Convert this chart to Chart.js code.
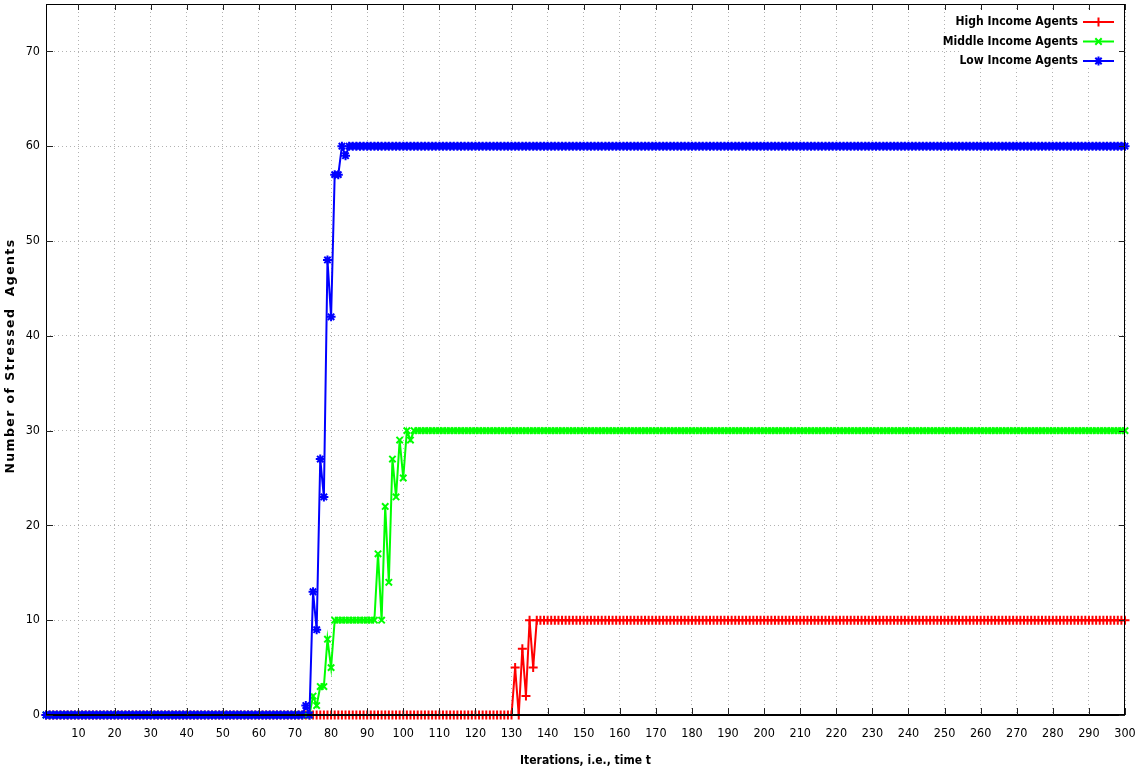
<!DOCTYPE html>
<html><head><meta charset="utf-8">
<script src="https://cdn.jsdelivr.net/npm/chart.js@4/dist/chart.umd.min.js"></script>
<style>html,body{margin:0;padding:0;background:#fff;}#wrap{width:1136px;height:772px;}</style>
</head><body><div id="wrap"><canvas id="c" width="1136" height="772"></canvas></div>
<script>
// x index of each iteration (1..300)
const iterations = Array.from({length: 300}, (_, i) => i + 1);

const highIncome = [
0,0,0,0,0,0,0,0,0,0,0,0,0,0,0,0,0,0,0,0,
0,0,0,0,0,0,0,0,0,0,0,0,0,0,0,0,0,0,0,0,
0,0,0,0,0,0,0,0,0,0,0,0,0,0,0,0,0,0,0,0,
0,0,0,0,0,0,0,0,0,0,0,0,0,0,0,0,0,0,0,0,
0,0,0,0,0,0,0,0,0,0,0,0,0,0,0,0,0,0,0,0,
0,0,0,0,0,0,0,0,0,0,0,0,0,0,0,0,0,0,0,0,
0,0,0,0,0,0,0,0,0,0,5,0,7,2,10,5,10,10,10,10,
10,10,10,10,10,10,10,10,10,10,10,10,10,10,10,10,10,10,10,10,
10,10,10,10,10,10,10,10,10,10,10,10,10,10,10,10,10,10,10,10,
10,10,10,10,10,10,10,10,10,10,10,10,10,10,10,10,10,10,10,10,
10,10,10,10,10,10,10,10,10,10,10,10,10,10,10,10,10,10,10,10,
10,10,10,10,10,10,10,10,10,10,10,10,10,10,10,10,10,10,10,10,
10,10,10,10,10,10,10,10,10,10,10,10,10,10,10,10,10,10,10,10,
10,10,10,10,10,10,10,10,10,10,10,10,10,10,10,10,10,10,10,10,
10,10,10,10,10,10,10,10,10,10,10,10,10,10,10,10,10,10,10,10
];
const middleIncome = [
0,0,0,0,0,0,0,0,0,0,0,0,0,0,0,0,0,0,0,0,
0,0,0,0,0,0,0,0,0,0,0,0,0,0,0,0,0,0,0,0,
0,0,0,0,0,0,0,0,0,0,0,0,0,0,0,0,0,0,0,0,
0,0,0,0,0,0,0,0,0,0,0,0,0,0,2,1,3,3,8,5,
10,10,10,10,10,10,10,10,10,10,10,10,17,10,22,14,27,23,29,25,
30,29,30,30,30,30,30,30,30,30,30,30,30,30,30,30,30,30,30,30,
30,30,30,30,30,30,30,30,30,30,30,30,30,30,30,30,30,30,30,30,
30,30,30,30,30,30,30,30,30,30,30,30,30,30,30,30,30,30,30,30,
30,30,30,30,30,30,30,30,30,30,30,30,30,30,30,30,30,30,30,30,
30,30,30,30,30,30,30,30,30,30,30,30,30,30,30,30,30,30,30,30,
30,30,30,30,30,30,30,30,30,30,30,30,30,30,30,30,30,30,30,30,
30,30,30,30,30,30,30,30,30,30,30,30,30,30,30,30,30,30,30,30,
30,30,30,30,30,30,30,30,30,30,30,30,30,30,30,30,30,30,30,30,
30,30,30,30,30,30,30,30,30,30,30,30,30,30,30,30,30,30,30,30,
30,30,30,30,30,30,30,30,30,30,30,30,30,30,30,30,30,30,30,30
];
const lowIncome = [
0,0,0,0,0,0,0,0,0,0,0,0,0,0,0,0,0,0,0,0,
0,0,0,0,0,0,0,0,0,0,0,0,0,0,0,0,0,0,0,0,
0,0,0,0,0,0,0,0,0,0,0,0,0,0,0,0,0,0,0,0,
0,0,0,0,0,0,0,0,0,0,0,0,1,0,13,9,27,23,48,42,
57,57,60,59,60,60,60,60,60,60,60,60,60,60,60,60,60,60,60,60,
60,60,60,60,60,60,60,60,60,60,60,60,60,60,60,60,60,60,60,60,
60,60,60,60,60,60,60,60,60,60,60,60,60,60,60,60,60,60,60,60,
60,60,60,60,60,60,60,60,60,60,60,60,60,60,60,60,60,60,60,60,
60,60,60,60,60,60,60,60,60,60,60,60,60,60,60,60,60,60,60,60,
60,60,60,60,60,60,60,60,60,60,60,60,60,60,60,60,60,60,60,60,
60,60,60,60,60,60,60,60,60,60,60,60,60,60,60,60,60,60,60,60,
60,60,60,60,60,60,60,60,60,60,60,60,60,60,60,60,60,60,60,60,
60,60,60,60,60,60,60,60,60,60,60,60,60,60,60,60,60,60,60,60,
60,60,60,60,60,60,60,60,60,60,60,60,60,60,60,60,60,60,60,60,
60,60,60,60,60,60,60,60,60,60,60,60,60,60,60,60,60,60,60,60
];
const xTickValues = [10,20,30,40,50,60,70,80,90,100,110,120,130,140,150,160,170,180,190,200,210,220,230,240,250,260,270,280,290,300];
const yTickValues = [0,10,20,30,40,50,60,70];
const seriesNames = ['High Income Agents', 'Middle Income Agents', 'Low Income Agents'];
const seriesColors = ['#ff0000', '#00ff00', '#0000ff'];
const seriesStyles = ['cross', 'crossRot', 'star'];
const xTitle = 'Iterations, i.e., time t';
const yTitle = 'Number of Stressed  Agents';

const toPoints = arr => arr.map((v, i) => ({x: iterations[i], y: v}));
const seriesData = [highIncome, middleIncome, lowIncome];

const tickFont = {family: '"DejaVu Sans Condensed", "Liberation Sans Narrow", sans-serif', size: 12.5};

function drawMarker(ctx, style, x, y, r) {
  ctx.beginPath();
  if (style === 'cross' || style === 'star') {
    ctx.moveTo(x - r, y); ctx.lineTo(x + r, y);
    ctx.moveTo(x, y - r); ctx.lineTo(x, y + r);
  }
  if (style === 'crossRot' || style === 'star') {
    const d = r * 0.7071;
    ctx.moveTo(x - d, y - d); ctx.lineTo(x + d, y + d);
    ctx.moveTo(x - d, y + d); ctx.lineTo(x + d, y - d);
  }
  ctx.stroke();
}

const framePlugin = {
  id: 'frame',
  afterDatasetsDraw(chart) {
    const ctx = chart.ctx, a = chart.chartArea;
    const xs = chart.scales.x, ys = chart.scales.y;
    ctx.save();
    // opaque key box
    ctx.fillStyle = '#ffffff';
    ctx.fillRect(962, a.top + 6, a.right - 962, 56);
    // border
    ctx.strokeStyle = '#000';
    ctx.lineWidth = 1;
    ctx.strokeRect(Math.round(a.left) + 0.5, Math.round(a.top) + 0.5, Math.round(a.right - a.left) - 1, Math.round(a.bottom - a.top));
    ctx.lineWidth = 2;
    ctx.beginPath(); ctx.moveTo(a.left, Math.round(a.bottom)); ctx.lineTo(a.right, Math.round(a.bottom)); ctx.stroke();
    // inward tick marks
    ctx.lineWidth = 1;
    ctx.strokeStyle = '#222';
    ctx.beginPath();
    xTickValues.forEach(v => {
      const px = Math.round(xs.getPixelForValue(v)) + 0.5;
      ctx.moveTo(px, a.bottom); ctx.lineTo(px, a.bottom - 7);
      ctx.moveTo(px, a.top); ctx.lineTo(px, a.top + 6);
    });
    yTickValues.forEach(v => {
      const py = Math.round(ys.getPixelForValue(v)) + 0.5;
      ctx.moveTo(a.left, py); ctx.lineTo(a.left + 7, py);
      ctx.moveTo(a.right, py); ctx.lineTo(a.right - 6, py);
    });
    ctx.stroke();
    // key
    ctx.font = 'bold 12px "DejaVu Sans Condensed", "Liberation Sans Narrow", sans-serif';
    ctx.textAlign = 'right';
    ctx.textBaseline = 'middle';
    const rowsY = [22, 41.5, 61];
    seriesNames.forEach((name, i) => {
      const y = rowsY[i];
      ctx.fillStyle = '#000';
      ctx.fillText(name, 1078, y);
      ctx.strokeStyle = seriesColors[i];
      ctx.lineWidth = 2;
      ctx.beginPath(); ctx.moveTo(1083, y); ctx.lineTo(1114, y); ctx.stroke();
      ctx.lineWidth = 2;
      drawMarker(ctx, seriesStyles[i], 1098.5, y, 4.5);
    });
    ctx.restore();
  },
  afterDraw(chart) {
    const ctx = chart.ctx, a = chart.chartArea;
    ctx.save();
    ctx.fillStyle = '#000';
    ctx.textAlign = 'center';
    ctx.textBaseline = 'middle';
    ctx.font = 'bold 12px "DejaVu Sans Condensed", "Liberation Sans Narrow", sans-serif';
    ctx.fillText(xTitle, (a.left + a.right) / 2, 761);
    ctx.translate(11, 356);
    ctx.rotate(-Math.PI / 2);
    ctx.font = 'bold 12.5px "DejaVu Sans", sans-serif';
    try { ctx.letterSpacing = '1.4px'; } catch (e) {}
    ctx.fillText(yTitle, 0, 0);
    ctx.restore();
  }
};

function noPad(s) {
  s.paddingTop = 0; s.paddingBottom = 0; s.paddingLeft = 0; s.paddingRight = 0;
}

new Chart(document.getElementById('c'), {
  type: 'line',
  data: {
    datasets: seriesData.map((arr, i) => ({
      label: seriesNames[i],
      data: toPoints(arr),
      borderColor: seriesColors[i],
      backgroundColor: seriesColors[i],
      pointBorderColor: seriesColors[i],
      pointBackgroundColor: seriesColors[i],
      pointStyle: seriesStyles[i],
      pointRadius: 4.5,
      pointBorderWidth: 2,
      borderWidth: 2,
      fill: false,
      tension: 0,
      clip: false,
      order: 2 - i
    }))
  },
  options: {
    responsive: false,
    animation: false,
    devicePixelRatio: 1,
    layout: {autoPadding: false, padding: {top: 4, right: 11, left: 0, bottom: 0}},
    plugins: {legend: {display: false}, tooltip: {enabled: false}},
    scales: {
      x: {
        type: 'linear', min: 1, max: 300,
        afterBuildTicks: s => { s.ticks = xTickValues.map(v => ({value: v})); },
        afterFit: s => { s.height = 57; noPad(s); },
        grid: {color: 'rgba(165,165,165,0.85)', lineWidth: 1, drawTicks: false},
        border: {display: false, dash: [1, 3]},
        ticks: {font: tickFont, color: '#000', padding: 11, maxRotation: 0, autoSkip: false}
      },
      y: {
        type: 'linear', min: 0, max: 75,
        afterBuildTicks: s => { s.ticks = yTickValues.map(v => ({value: v})); },
        afterFit: s => { s.width = 46; noPad(s); },
        grid: {color: 'rgba(165,165,165,0.85)', lineWidth: 1, drawTicks: false},
        border: {display: false, dash: [1, 3]},
        ticks: {font: tickFont, color: '#000', padding: 6}
      }
    }
  },
  plugins: [framePlugin]
});
</script>
</body></html>
